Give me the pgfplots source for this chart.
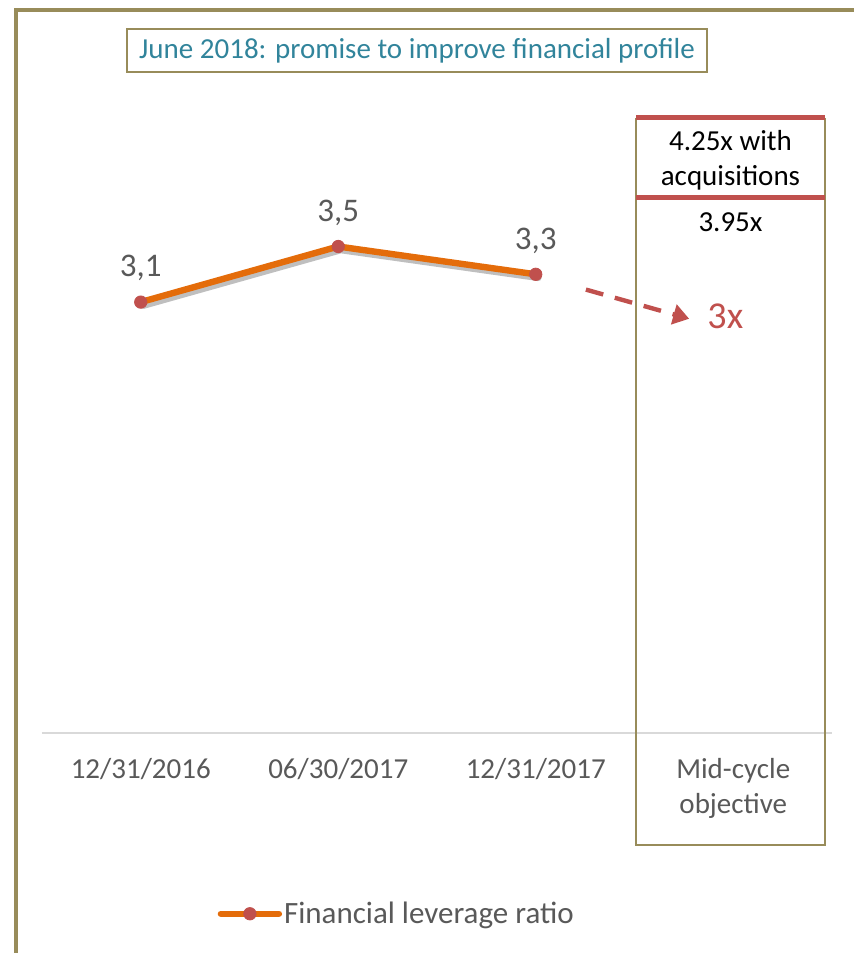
\documentclass[border=0pt]{standalone}
\usepackage{pgfplots}
\pgfplotsset{compat=1.18}
\usepackage{fontspec}
\setmainfont{Carlito}
\usetikzlibrary{arrows.meta}

\definecolor{khaki}{RGB}{152,140,90}
\definecolor{lineorange}{RGB}{228,108,10}
\definecolor{markred}{RGB}{192,80,77}
\definecolor{titleteal}{RGB}{49,132,155}
\definecolor{labelgray}{RGB}{89,89,89}
\definecolor{basegray}{RGB}{217,217,217}

\begin{document}
\begin{tikzpicture}[x=1pt,y=1pt]
\useasboundingbox (0,0) rectangle (427,476.5);
% outer frame, only left and top edges show
\draw[khaki, line width=1.6pt] (8,0) -- (8,471.5) -- (427,471.5);

\begin{axis}[
    at={(21pt,110pt)}, anchor=south west,
    scale only axis,
    width=395pt, height=312.75pt,
    xmin=-0.5, xmax=3.5,
    ymin=0, ymax=4.5,
    clip=false,
    axis y line=none,
    axis x line*=bottom,
    x axis line style={draw=basegray, line width=0.8pt, -},
    major tick length=0pt,
    ytick=\empty,
    xtick={0,1,2,3},
    xticklabels={12/31/2016,06/30/2017,12/31/2017,{Mid-cycle\\objective}},
    xticklabel style={font=\fontsize{14.5}{17.5}\selectfont, text=labelgray,
        align=center, anchor=north, yshift=-9pt},
    legend style={at={(0.449,-0.289)}, anchor=center, draw=none,
        font=\fontsize{15.5}{18}\selectfont, text=labelgray,
        inner sep=0pt, nodes={inner sep=1pt}},
    legend image code/.code={
        \draw[mark repeat=2, mark phase=2, #1]
            plot coordinates {(0pt,0pt) (14.5pt,0pt) (29pt,0pt)};
    },
]
% soft shadow under the line
\addplot[black, opacity=0.25, line width=3.2pt, line cap=round, line join=round,
    xshift=1.3pt, yshift=-1.8pt, forget plot]
    coordinates {(0,3.1) (1,3.5) (2,3.3)};
\addplot[lineorange, line width=3.2pt, line cap=round, line join=round,
    mark=*, mark size=3.1pt,
    mark options={solid, line width=0.4pt, draw=markred, fill=markred},
    nodes near coords={\pgfmathprintnumber[fixed, precision=1, use comma,
        assume math mode=true]{\pgfplotspointmeta}},
    every node near coord/.append style={font=\fontsize{16.5}{19}\selectfont,
        text=labelgray, anchor=south, yshift=7pt}]
    coordinates {(0,3.1) (1,3.5) (2,3.3)};
\addlegendentry{Financial leverage ratio}

% dashed arrow toward the objective
\draw[markred, line width=2.2pt, dash pattern=on 9pt off 6pt,
    -{Triangle[length=8pt, width=10pt]}]
    (axis cs:2.254,3.19) -- (axis cs:2.777,2.98);
\node[text=markred, font=\fontsize{19}{22}\selectfont] at (axis cs:2.96,3.0) {3x};
\end{axis}

% objective box
\draw[khaki, line width=1.2pt] (318,417.5) -- (318,54) -- (412.5,54) -- (412.5,417.5);
\draw[markred, line width=2.5pt] (318,417.5) -- (412.5,417.5);
\draw[markred, line width=2.5pt] (318,377.5) -- (412.5,377.5);
\node[align=center, font=\fontsize{14.5}{17.5}\selectfont] at (365.25,396.5)
    {4.25x with\\acquisitions};
\node[font=\fontsize{14.5}{17.5}\selectfont] at (365.25,365.5) {3.95x};

% title box
\node[draw=khaki, line width=1pt, text=titleteal, font=\fontsize{14.5}{17.5}\selectfont,
    minimum width=290pt, minimum height=21.5pt, inner sep=0pt]
    at (208.5,451.25) {June 2018: promise to improve financial profile};
\end{tikzpicture}
\end{document}
